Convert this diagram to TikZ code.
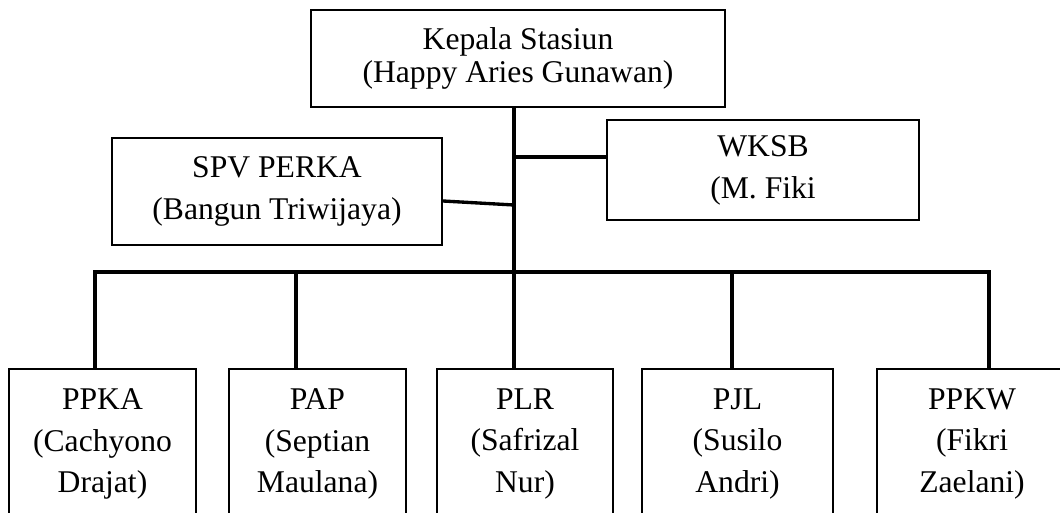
\documentclass[tikz,border=0pt]{standalone}
\usepackage{fontspec}
\setmainfont{Liberation Serif}
\usetikzlibrary{positioning}
\begin{document}
\begin{tikzpicture}[x=0.02cm,y=-0.02cm,
  box/.style = {draw,line width=1.1pt,inner sep=0pt,align=center,
        font=\fontsize{18}{23.8}\selectfont},
  unit/.style = {box,minimum width=#1,minimum height=3cm},
  link/.style = {line width=1.9pt}]
 \useasboundingbox (0,0) rectangle (1060,513);
 \node[box,minimum width=8.28cm,minimum height=1.94cm,
       font=\fontsize{18}{18.5}\selectfont] (kepala) at (518,58.5)
       {Kepala Stasiun\\(Happy Aries Gunawan)};
 \node[box,minimum width=6.6cm,minimum height=2.14cm] (spv) at (277,191.5)
       {SPV PERKA\\(Bangun Triwijaya)};
 \node[box,minimum width=6.24cm,minimum height=2cm] (wksb) at (763,170)
       {WKSB\\(M. Fiki};
 \node[unit=3.74cm] (ppka) at (102.5,444) {PPKA\\(Cachyono\\Drajat)};
 \node[unit=3.54cm] (pap)  at (317.5,444) {PAP\\(Septian\\Maulana)};
 \node[unit=3.52cm] (plr)  at (525,444)   {PLR\\(Safrizal\\Nur)};
 \node[unit=3.82cm] (pjl)  at (737.5,444) {PJL\\(Susilo\\Andri)};
 \node[unit=3.8cm]  (ppkw) at (972,444)   {PPKW\\(Fikri\\Zaelani)};
 % junctions on the trunk and the bus
 \coordinate (hub) at (514,272);
 \coordinate (jw)  at (514,157);
 \coordinate (js)  at (514,205);
 \foreach \n/\x in {ppka/95,pap/296,pjl/732,ppkw/989}
   \coordinate (d\n) at (\x,272);
 \begin{scope}[link]
  \draw (kepala.south -| hub) -- (plr.north -| hub);
  \draw (jw) -- (wksb.west |- jw);
  \draw ([yshift=-0.19cm]spv.east) -- (js);
  \draw (ppka.north -| dppka) -- (dppka) -- (dppkw) -- (ppkw.north -| dppkw);
  \draw (dpap) -- (pap.north -| dpap);
  \draw (dpjl) -- (pjl.north -| dpjl);
 \end{scope}
\end{tikzpicture}
\end{document}
